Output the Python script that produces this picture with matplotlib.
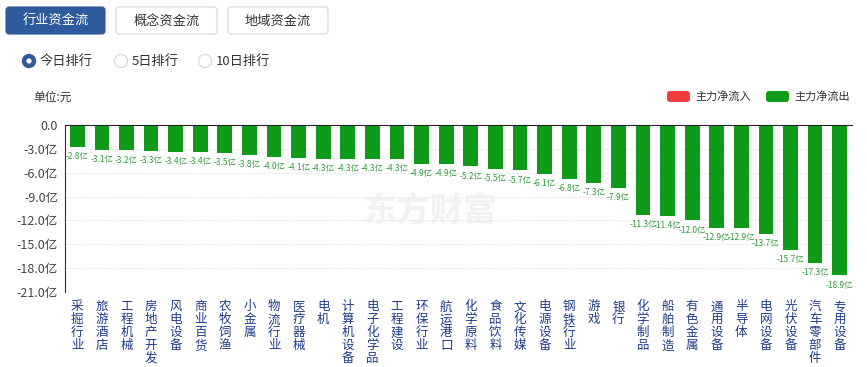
import matplotlib
matplotlib.use("Agg")
import matplotlib.pyplot as plt
from matplotlib.patches import FancyBboxPatch, Circle
import numpy as np

plt.rcParams['font.family'] = ['Noto Sans CJK SC', 'DejaVu Sans']

# data (亿元)
categories = ["采掘行业", "旅游酒店", "工程机械", "房地产开发", "风电设备", "商业百货",
              "农牧饲渔", "小金属", "物流行业", "医疗器械", "电机", "计算机设备",
              "电子化学品", "工程建设", "环保行业", "航运港口", "化学原料", "食品饮料",
              "文化传媒", "电源设备", "钢铁行业", "游戏", "银行", "化学制品",
              "船舶制造", "有色金属", "通用设备", "半导体", "电网设备", "光伏设备",
              "汽车零部件", "专用设备"]
values = [-2.8, -3.1, -3.2, -3.3, -3.4, -3.4, -3.5, -3.8, -4.0, -4.1, -4.3, -4.3,
          -4.3, -4.3, -4.9, -4.9, -5.2, -5.5, -5.7, -6.1, -6.8, -7.3, -7.9, -11.3,
          -11.4, -12.0, -12.9, -12.9, -13.7, -15.7, -17.3, -18.9]
yticks = [0, -3, -6, -9, -12, -15, -18, -21]
tabs = ["行业资金流", "概念资金流", "地域资金流"]
radios = ["今日排行", "5日排行", "10日排行"]

W, H = 867, 367
GREEN = "#0f9a1a"
RED = "#f03c3c"
BLUE = "#2f5b9c"

fig = plt.figure(figsize=(W / 100, H / 100), dpi=100)

# overlay in pixel coordinates for the page furniture
bg = fig.add_axes([0, 0, 1, 1], zorder=0)
bg.set_xlim(0, W)
bg.set_ylim(H, 0)
bg.axis("off")

# tab buttons
tab_x = [6, 116, 228]
tab_w = [99, 101, 100]
for i, (lab, x0, w) in enumerate(zip(tabs, tab_x, tab_w)):
    sel = i == 0
    bg.add_patch(FancyBboxPatch((x0, 7), w, 27, boxstyle="round,pad=0,rounding_size=3",
                                fc=BLUE if sel else "white",
                                ec=BLUE if sel else "#cfd6e0", lw=0.8))
    bg.text(x0 + w / 2, 21, lab, ha="center", va="center", fontsize=9.5,
            color="white" if sel else "#333333")

# radio options
radio_x = [29, 121, 205]
for i, (lab, x0) in enumerate(zip(radios, radio_x)):
    if i == 0:
        bg.add_patch(Circle((x0, 61), 6.5, fc=BLUE, ec=BLUE))
        bg.add_patch(Circle((x0, 61), 2.6, fc="white", ec="none"))
    else:
        bg.add_patch(Circle((x0, 61), 6.5, fc="white", ec="#cfd6e0", lw=0.8))
    bg.text(x0 + 11, 61, lab, ha="left", va="center", fontsize=9.5, color="#333333")

bg.text(33, 97, "单位:元", ha="left", va="center", fontsize=8.5, color="#333333")

# legend
for x0, c, lab in [(667, RED, "主力净流入"), (766, GREEN, "主力净流出")]:
    bg.add_patch(FancyBboxPatch((x0, 91), 23, 11, boxstyle="round,pad=0,rounding_size=3",
                                fc=c, ec="none"))
    bg.text(x0 + 28, 96.5, lab, ha="left", va="center", fontsize=8, color="#333333")

# watermark
bg.text(430, 212, "东方财富", ha="center", va="center", fontsize=24,
        fontweight="bold", color="#f2f2f2", zorder=0.5)

# main chart
ax = fig.add_axes([65 / W, 1 - 292 / H, (852 - 65) / W, (292 - 125) / H], zorder=1)
ax.patch.set_alpha(0)
x = np.arange(len(categories))
ax.bar(x, values, width=0.6, color=GREEN, zorder=2)
for xi, v in zip(x, values):
    ax.annotate(f"{v:.1f}亿", (xi, v), xytext=(0, -7), textcoords="offset points",
                ha="center", va="center", fontsize=6, color="#2f9a3a", zorder=3)

ax.set_xlim(-0.5, len(categories) - 0.5)
ax.set_ylim(-21, 0)
ax.set_yticks(yticks)
ax.set_yticklabels(["0.0" if t == 0 else f"{t:.1f}亿" for t in yticks],
                   fontsize=9, color="#444444")
ax.set_xticks(x)
ax.set_xticklabels(["\n".join(c) for c in categories], fontsize=9, color="#1f3c88",
                   va="top", linespacing=1.0)
ax.tick_params(axis="both", length=0, pad=5)
ax.tick_params(axis="x", pad=6)
ax.grid(axis="y", color="#e4e4e4", ls=(0, (2, 2)), lw=0.7, zorder=0)
for s in ["right", "bottom"]:
    ax.spines[s].set_visible(False)
ax.spines["left"].set_color("#333333")
ax.spines["top"].set_color("#222222")
ax.spines["left"].set_linewidth(0.8)
ax.spines["top"].set_linewidth(0.8)

fig.savefig("out.png", dpi=100, facecolor="white")
